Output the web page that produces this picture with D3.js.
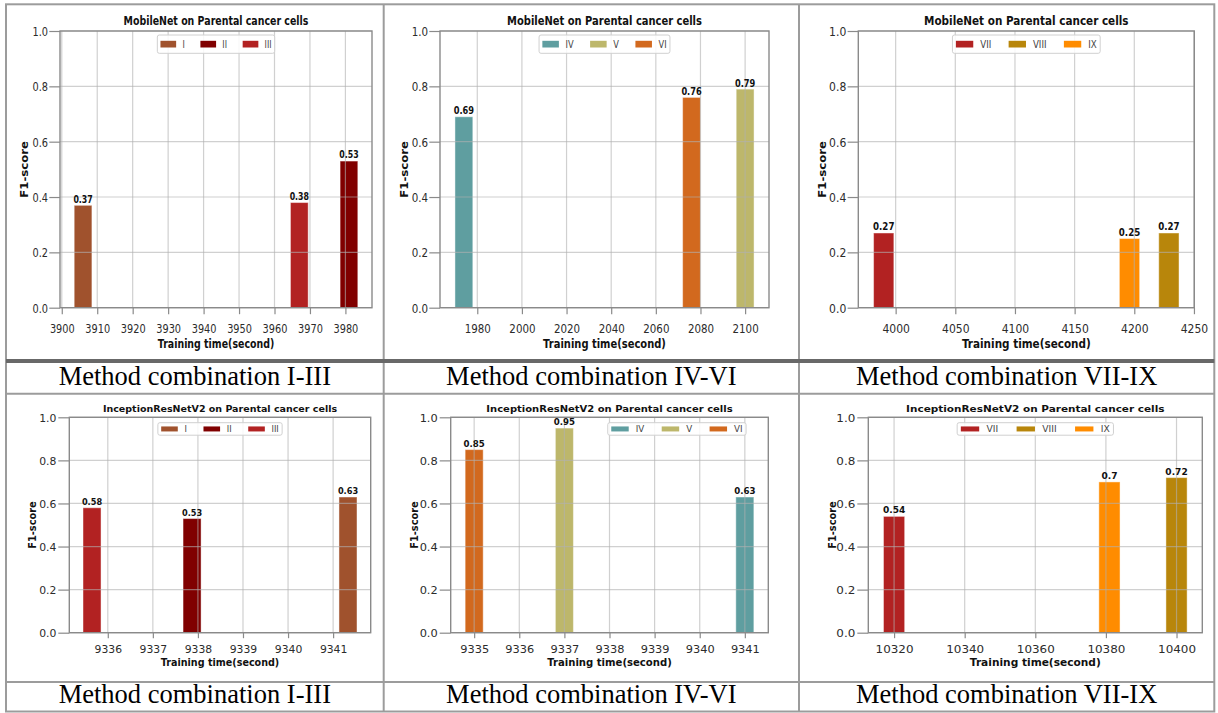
<!DOCTYPE html>
<html>
<head>
<meta charset="utf-8">
<script src="https://cdn.jsdelivr.net/npm/d3@7"></script>
<style>
  body { margin: 0; background: #fff; }
</style>
</head>
<body>
<div id="chart"></div>
<script>
// ---- data ----
const methods = ["I", "II", "III", "IV", "V", "VI", "VII", "VIII", "IX"];
const methodColors = ["#a0522d", "#800000", "#b22222", "#5f9ea0", "#bdb76b", "#d2691e", "#b22222", "#b8860b", "#ff8c00"];

const panelTitles = [
  "MobileNet on Parental cancer cells",
  "MobileNet on Parental cancer cells",
  "MobileNet on Parental cancer cells",
  "InceptionResNetV2 on Parental cancer cells",
  "InceptionResNetV2 on Parental cancer cells",
  "InceptionResNetV2 on Parental cancer cells"
];
const panelCaptions = [
  "Method combination I-III",
  "Method combination IV-VI",
  "Method combination VII-IX",
  "Method combination I-III",
  "Method combination IV-VI",
  "Method combination VII-IX"
];
const panelMethods = [
  ["I", "II", "III"], ["IV", "V", "VI"], ["VII", "VIII", "IX"],
  ["I", "II", "III"], ["IV", "V", "VI"], ["VII", "VIII", "IX"]
];
// training time (seconds), same order as panelMethods
const trainTimes = [
  [3906, 3981, 3967],
  [1974, 2100, 2076],
  [3990, 4229, 4196],
  [9341.33, 9337.87, 9335.65],
  [9341, 9337, 9335],
  [10320, 10400, 10381]
];
const f1Scores = [
  [0.37, 0.53, 0.38],
  [0.69, 0.79, 0.76],
  [0.27, 0.27, 0.25],
  [0.63, 0.53, 0.58],
  [0.63, 0.95, 0.85],
  [0.54, 0.72, 0.7]
];
const barWidths = [5, 8, 17, 0.4, 0.4, 6];
const xTickValues = [
  [3900, 3910, 3920, 3930, 3940, 3950, 3960, 3970, 3980],
  [1980, 2000, 2020, 2040, 2060, 2080, 2100],
  [4000, 4050, 4100, 4150, 4200, 4250],
  [9336, 9337, 9338, 9339, 9340, 9341],
  [9335, 9336, 9337, 9338, 9339, 9340, 9341],
  [10320, 10340, 10360, 10380, 10400]
];
const yTickValues = [0, 0.2, 0.4, 0.6, 0.8, 1.0];

// ---- layout ----
const width = 1218, height = 713;
const colX = [6, 383.7, 799, 1214.3];
const captionBaseline = [385, 703.3];
const axesX = [[60, 372], [440, 769], [858.3, 1194.3], [69.3, 370.7], [450.7, 768.3], [868.3, 1202.3]];
const hMult = [1, 1.054, 1.107, 1, 1.052, 1.106];
const legendAt = [0.5, 0.5, 0.5, 0.5, 0.93, 0.5];
const legendAlign = ["middle", "middle", "middle", "middle", "end", "middle"];

const rowStyle = [
  { top: 31, bottom: 307.7, sx: 0.8, titleSize: 11.8, tickSize: 12.2, labelSize: 11.8, ylabSize: 11.7, ylabSx: 0.85,
    valueSize: 9.8, legendSize: 9.8, titleGap: 10.3, xtickOff: 20.6, xlabOff: 36.3, ytickLen: 10.7, ytickPad: 1.3,
    xtickLen: 6.5, ylabOff: 36, legendTop: 4, legendH: 18.3, patchH: 6.7, valueGap: 2.6 },
  { top: 417.3, bottom: 632.7, sx: 1.0, titleSize: 9.5, tickSize: 10.8, labelSize: 9.6, ylabSize: 9.8, ylabSx: 1.0,
    valueSize: 8.2, legendSize: 8.3, titleGap: 8.3, xtickOff: 16, xlabOff: 30, ytickLen: 11, ytickPad: 2,
    xtickLen: 5.5, ylabOff: 36.5, legendTop: 5.4, legendH: 12.5, patchH: 5, valueGap: 3 }
];

const color = d3.scaleOrdinal().domain(methods).range(methodColors);

const svg = d3.select("#chart").append("svg")
  .attr("width", width)
  .attr("height", height)
  .style("font-family", "'DejaVu Sans', sans-serif");

svg.append("rect").attr("width", width).attr("height", height).attr("fill", "#fff");

// text with horizontal squeeze (the figures in the source are stretched)
function addText(parent, x, y, s, o) {
  return parent.append("text")
    .attr("transform", `translate(${x},${y}) scale(${o.sx},1)` + (o.rotate ? " rotate(-90)" : ""))
    .attr("font-size", o.size)
    .attr("text-anchor", o.anchor || "middle")
    .attr("font-weight", o.bold ? "bold" : null)
    .attr("fill", o.fill || "#111")
    .attr("dy", o.dy || null)
    .text(s);
}

panelTitles.forEach((title, i) => {
  const r = rowStyle[i < 3 ? 0 : 1];
  const sx = r.sx * hMult[i];
  const [ax0, ax1] = axesX[i];
  const g = svg.append("g");

  const times = trainTimes[i], w = barWidths[i];
  const lo = d3.min(times) - w / 2, hi = d3.max(times) + w / 2, m = (hi - lo) * 0.05;
  const x = d3.scaleLinear().domain([lo - m, hi + m]).range([ax0, ax1]);
  const y = d3.scaleLinear().domain([0, 1]).range([r.bottom, r.top]);

  const bars = panelMethods[i].map((k, j) => ({ k, t: times[j], v: f1Scores[i][j] }));

  // bars
  g.append("g").selectAll("rect").data(bars).join("rect")
    .attr("x", d => x(d.t - w / 2))
    .attr("width", d => x(d.t + w / 2) - x(d.t - w / 2))
    .attr("y", d => y(d.v))
    .attr("height", d => y(0) - y(d.v))
    .attr("fill", d => color(d.k))
    .attr("stroke", "#fff").attr("stroke-opacity", 0.45).attr("stroke-width", 1);

  // grid
  const grid = g.append("g").attr("stroke", "#b0b0b0").attr("stroke-opacity", 0.6).attr("stroke-width", 1.2);
  grid.selectAll(".gx").data(xTickValues[i]).join("line")
    .attr("x1", d => x(d)).attr("x2", d => x(d)).attr("y1", r.top).attr("y2", r.bottom);
  grid.selectAll(".gy").data(yTickValues).join("line")
    .attr("x1", ax0).attr("x2", ax1).attr("y1", d => y(d)).attr("y2", d => y(d));

  // axes
  const xAxis = g.append("g").attr("transform", `translate(0,${r.bottom})`)
    .call(d3.axisBottom(x).tickValues(xTickValues[i]).tickSize(r.xtickLen).tickFormat(d3.format("d")));
  const yAxis = g.append("g").attr("transform", `translate(${ax0},0)`)
    .call(d3.axisLeft(y).tickValues(yTickValues).tickSize(r.ytickLen).tickFormat(d3.format(".1f")));
  [xAxis, yAxis].forEach(a => {
    a.attr("font-family", null);
    a.select(".domain").remove();
    a.selectAll(".tick line").attr("stroke", "#8a8a8a").attr("stroke-width", 1.2);
  });
  xAxis.selectAll(".tick text")
    .attr("y", null).attr("dy", "0.36em")
    .attr("transform", `translate(0,${r.xtickOff}) scale(${sx},1)`)
    .attr("font-size", r.tickSize).attr("fill", "#2b2b2b");
  yAxis.selectAll(".tick text")
    .attr("x", null).attr("dy", "0.36em")
    .attr("transform", `translate(${-(r.ytickLen + r.ytickPad)},0) scale(${sx},1)`)
    .attr("font-size", r.tickSize).attr("fill", "#2b2b2b");

  // spines
  g.append("rect")
    .attr("x", ax0).attr("y", r.top).attr("width", ax1 - ax0).attr("height", r.bottom - r.top)
    .attr("fill", "none").attr("stroke", "#8a8a8a").attr("stroke-width", 1.4);

  // value labels
  bars.forEach(d => {
    addText(g, x(d.t), y(d.v) - r.valueGap, String(d.v), { size: r.valueSize, sx, bold: true });
  });

  // titles
  const cx = (ax0 + ax1) / 2;
  addText(g, cx, r.top - r.titleGap, title, { size: r.titleSize, sx, bold: true, dy: "0.36em" });
  addText(g, cx, r.bottom + r.xlabOff, "Training time(second)", { size: r.labelSize, sx, bold: true, dy: "0.36em" });
  addText(g, ax0 - r.ylabOff, (r.top + r.bottom) / 2, "F1-score",
    { size: r.ylabSize, sx: r.ylabSx * hMult[i], bold: true, rotate: true, dy: "0.36em" });

  // legend (matplotlib style: 3 columns)
  const u = r.legendSize * sx;
  const lg = g.append("g");
  const box = lg.append("rect");
  const items = panelMethods[i].map(k => {
    const t = addText(lg, 0, 0, k, { size: r.legendSize, sx, anchor: "start", fill: "#444", dy: "0.36em" });
    return { k, t, w: t.node().getComputedTextLength() * sx };
  });
  const pad = 0.4 * u, hl = 2 * u, htp = 0.8 * u, cs = 2 * u;
  const boxW = 2 * pad + d3.sum(items, d => hl + htp + d.w) + cs * (items.length - 1);
  const anchorX = ax0 + (ax1 - ax0) * legendAt[i];
  const bx = legendAlign[i] === "end" ? anchorX - boxW : anchorX - boxW / 2;
  const by = r.top + r.legendTop, cy = by + r.legendH / 2;
  box.attr("x", bx).attr("y", by).attr("width", boxW).attr("height", r.legendH).attr("rx", 2)
    .attr("fill", "#fff").attr("fill-opacity", 0.85).attr("stroke", "#d0d0d0").attr("stroke-width", 1);
  let px = bx + pad;
  items.forEach(d => {
    lg.append("rect").attr("x", px).attr("y", cy - r.patchH / 2).attr("width", hl).attr("height", r.patchH)
      .attr("fill", color(d.k));
    d.t.attr("transform", `translate(${px + hl + htp},${cy}) scale(${sx},1)`);
    px += hl + htp + d.w + cs;
  });
});

// ---- table frame and captions ----
const frame = svg.append("g").attr("fill", "none");
frame.append("rect")
  .attr("x", colX[0]).attr("y", 4.3).attr("width", colX[3] - colX[0]).attr("height", 711.5 - 4.3)
  .attr("stroke", "#9c9c9c").attr("stroke-width", 2);
[colX[1], colX[2]].forEach(cxp => {
  frame.append("line").attr("x1", cxp).attr("x2", cxp).attr("y1", 4.3).attr("y2", 711.5)
    .attr("stroke", "#9c9c9c").attr("stroke-width", 2);
});
frame.append("line").attr("x1", colX[0]).attr("x2", colX[3]).attr("y1", 361).attr("y2", 361)
  .attr("stroke", "#686868").attr("stroke-width", 4);
[393.7, 682].forEach(yy => {
  frame.append("line").attr("x1", colX[0]).attr("x2", colX[3]).attr("y1", yy).attr("y2", yy)
    .attr("stroke", "#9c9c9c").attr("stroke-width", 2);
});

panelCaptions.forEach((c, i) => {
  const col = i % 3, row = i < 3 ? 0 : 1;
  svg.append("text")
    .attr("x", (colX[col] + colX[col + 1]) / 2)
    .attr("y", captionBaseline[row])
    .attr("text-anchor", "middle")
    .attr("font-family", "'Liberation Serif', 'Times New Roman', serif")
    .attr("font-size", 26.5)
    .attr("fill", "#000")
    .text(c);
});
</script>
</body>
</html>
